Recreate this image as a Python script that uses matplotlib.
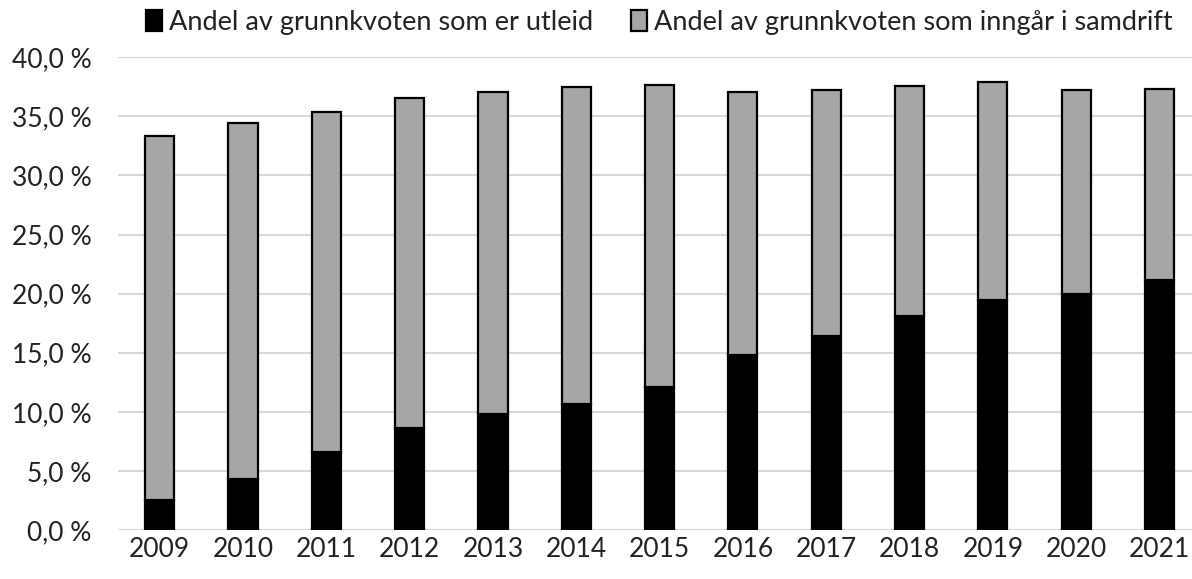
import matplotlib

matplotlib.use("Agg")

import matplotlib.pyplot as plt
from matplotlib.ticker import FuncFormatter

years = ["2009", "2010", "2011", "2012", "2013", "2014", "2015",
         "2016", "2017", "2018", "2019", "2020", "2021"]
utleid = [2.5, 4.35, 6.6, 8.6, 9.8, 10.7, 12.1, 14.8, 16.45, 18.1, 19.5, 19.95, 21.15]
totalt = [33.3, 34.4, 35.35, 36.55, 37.1, 37.45, 37.65, 37.1, 37.2, 37.55, 37.9, 37.2, 37.3]
samdrift = [t - u for t, u in zip(totalt, utleid)]

labels = ["Andel av grunnkvoten som er utleid",
          "Andel av grunnkvoten som inngår i samdrift"]

plt.rcParams["font.family"] = ["Lato", "DejaVu Sans"]

fig = plt.figure(figsize=(11.92, 5.79), dpi=100)
ax = fig.add_axes([0.099, 0.0846, 0.901, 0.8164])

x = range(len(years))
ax.bar(x, utleid, width=0.35, color="black", edgecolor="black",
       linewidth=1.6, label=labels[0], zorder=3)
ax.bar(x, samdrift, width=0.35, bottom=utleid, color="#a6a6a6",
       edgecolor="black", linewidth=1.6, label=labels[1], zorder=3)

ax.set_ylim(0, 40)
ax.set_xlim(-0.5, 12.39)
ax.set_yticks(range(0, 41, 5))
ax.yaxis.set_major_formatter(FuncFormatter(lambda v, _: f"{v:.1f} %".replace(".", ",")))
ax.set_xticks(list(x))
ax.set_xticklabels(years)
ax.tick_params(length=0, labelsize=19, colors="#222222")
ax.tick_params(axis="y", pad=19)
ax.tick_params(axis="x", pad=5)
ax.grid(axis="y", color="#d9d9d9", linewidth=1.5, zorder=0)
for side in ["top", "right", "left", "bottom"]:
    ax.spines[side].set_visible(False)

fig.legend(loc="upper center", bbox_to_anchor=(0.553, 1.025), ncol=2,
           frameon=False, fontsize=19.5, handlelength=0.6, handleheight=0.85,
           handletextpad=0.25, columnspacing=1.4, labelcolor="#222222")

fig.savefig("out.png", dpi=100)
